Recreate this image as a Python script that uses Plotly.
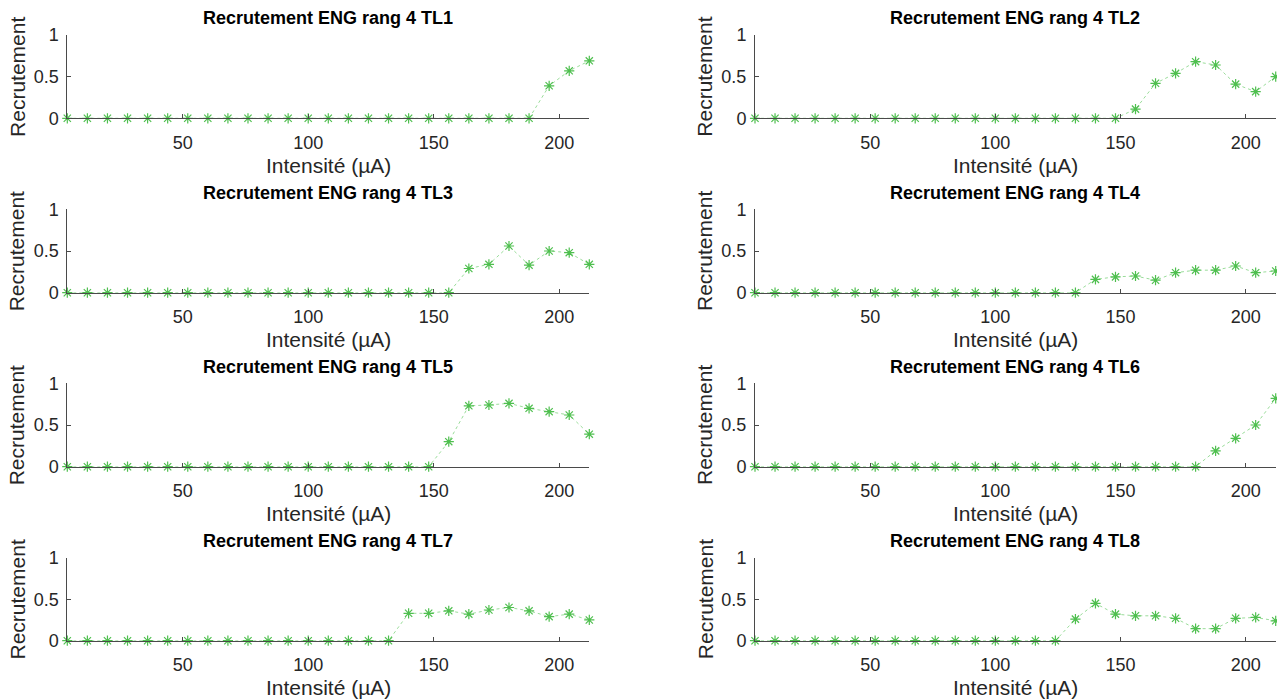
import plotly.graph_objects as go

# ---------------- data ----------------
intensite = [4, 12, 20, 28, 36, 44, 52, 60, 68, 76, 84, 92, 100, 108,
             116, 124, 132, 140, 148, 156, 164, 172, 180, 188, 196, 204, 212]

tl1 = [0, 0, 0, 0, 0, 0, 0, 0, 0, 0, 0, 0, 0, 0, 0, 0, 0, 0, 0, 0, 0, 0, 0, 0,
       0.39, 0.57, 0.69]
tl2 = [0, 0, 0, 0, 0, 0, 0, 0, 0, 0, 0, 0, 0, 0, 0, 0, 0, 0, 0,
       0.11, 0.42, 0.54, 0.68, 0.64, 0.41, 0.32, 0.50]
tl3 = [0, 0, 0, 0, 0, 0, 0, 0, 0, 0, 0, 0, 0, 0, 0, 0, 0, 0, 0, 0,
       0.29, 0.34, 0.56, 0.33, 0.50, 0.48, 0.34]
tl4 = [0, 0, 0, 0, 0, 0, 0, 0, 0, 0, 0, 0, 0, 0, 0, 0, 0,
       0.16, 0.19, 0.20, 0.15, 0.24, 0.27, 0.27, 0.32, 0.24, 0.26]
tl5 = [0, 0, 0, 0, 0, 0, 0, 0, 0, 0, 0, 0, 0, 0, 0, 0, 0, 0, 0,
       0.30, 0.73, 0.74, 0.76, 0.70, 0.66, 0.62, 0.39]
tl6 = [0, 0, 0, 0, 0, 0, 0, 0, 0, 0, 0, 0, 0, 0, 0, 0, 0, 0, 0, 0, 0, 0, 0,
       0.19, 0.34, 0.50, 0.82]
tl7 = [0, 0, 0, 0, 0, 0, 0, 0, 0, 0, 0, 0, 0, 0, 0, 0, 0,
       0.33, 0.33, 0.36, 0.32, 0.37, 0.40, 0.36, 0.29, 0.32, 0.25]
tl8 = [0, 0, 0, 0, 0, 0, 0, 0, 0, 0, 0, 0, 0, 0, 0, 0,
       0.26, 0.45, 0.32, 0.30, 0.30, 0.27, 0.145, 0.145, 0.27, 0.28, 0.24]

series = [tl1, tl2, tl3, tl4, tl5, tl6, tl7, tl8]
titles = ["Recrutement ENG rang 4 TL%d" % (i + 1) for i in range(8)]
x_ticks = [50, 100, 150, 200]
y_ticks = [0, 0.5, 1]
x_label = "Intensité (µA)"
y_label = "Recrutement"

# ---------------- layout ----------------
W, H = 1285, 699
OFF = 8  # page body margin shifts the figure by this many pixels
col_px = [(67.3 - OFF, 589.3 - OFF), (755.0 - OFF, 1275.7 - OFF)]
row_px = [(35.0 - OFF, 118.3 - OFF), (209.3 - OFF, 292.7 - OFF),
          (383.3 - OFF, 466.7 - OFF), (557.7 - OFF, 640.7 - OFF)]

FONT = "Liberation Sans, Arial, Helvetica, sans-serif"
AX_COL = "#4a4a4a"
TXT_COL = "#262626"
GREEN = "#4fbf4f"

fig = go.Figure()
annotations = []

for i, vals in enumerate(series):
    r, c = divmod(i, 2)
    n = i + 1
    xa = "x" if n == 1 else "x%d" % n
    ya = "y" if n == 1 else "y%d" % n
    fig.add_trace(go.Scatter(
        x=intensite, y=vals, xaxis=xa, yaxis=ya, mode="lines+markers",
        line=dict(color="#9adc9a", width=1, dash="dot"),
        marker=dict(symbol="asterisk-open", size=8.5,
                    line=dict(color=GREEN, width=1.2), color=GREEN),
        cliponaxis=False, showlegend=False, hoverinfo="x+y"))

    x0, x1 = col_px[c]
    yt, yb = row_px[r]
    xdom = [x0 / W, x1 / W]
    ydom = [1 - yb / H, 1 - yt / H]
    common = dict(showline=True, linecolor=AX_COL, linewidth=1,
                  ticks="inside", ticklen=4, tickcolor=AX_COL, tickwidth=1,
                  showgrid=False, zeroline=False, automargin=False,
                  tickfont=dict(family=FONT, size=18, color=TXT_COL))
    fig.layout[("xaxis" if n == 1 else "xaxis%d" % n)] = dict(
        domain=xdom, range=[4, 212], anchor=ya, tickmode="array",
        tickvals=x_ticks, ticklabelstandoff=8, **common)
    fig.layout[("yaxis" if n == 1 else "yaxis%d" % n)] = dict(
        domain=ydom, range=[0, 1], anchor=xa, tickmode="array",
        tickvals=y_ticks, ticktext=["0", "0.5", "1"],
        ticklabelstandoff=4, **common)

    xc = (x0 + x1) / 2 / W
    annotations.append(dict(
        text="<b>%s</b>" % titles[i], x=xc, y=1 - (yt - 16.7) / H,
        xref="paper", yref="paper", xanchor="center", yanchor="middle",
        showarrow=False, font=dict(family=FONT, size=18, color="#000000")))
    annotations.append(dict(
        text=x_label, x=xc, y=1 - (yb + 47) / H,
        xref="paper", yref="paper", xanchor="center", yanchor="middle",
        showarrow=False, font=dict(family=FONT, size=21, color=TXT_COL)))
    annotations.append(dict(
        text=y_label, x=(x0 - 50) / W, y=1 - (yt + yb) / 2 / H,
        xref="paper", yref="paper", xanchor="center", yanchor="middle",
        textangle=-90, showarrow=False,
        font=dict(family=FONT, size=21, color=TXT_COL)))

fig.update_layout(
    width=W, height=H, margin=dict(l=0, r=0, t=0, b=0),
    paper_bgcolor="white", plot_bgcolor="white",
    annotations=annotations)

fig.write_html("out.html")
